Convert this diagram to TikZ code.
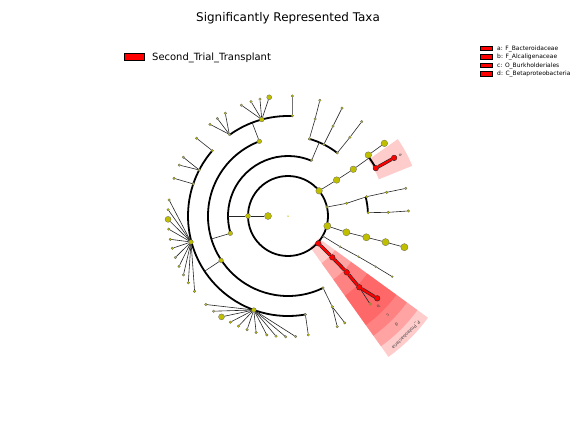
\documentclass[tikz,border=0pt]{standalone}
\usepackage{fontspec}
\setmainfont{DejaVu Sans}
\definecolor{taxonY}{RGB}{191,191,0}
\definecolor{biomRed}{RGB}{255,0,0}
\usetikzlibrary{positioning}

\begin{document}
\begin{tikzpicture}[x=1bp, y=1bp,
    taxon/.style={circle, inner sep=0pt, minimum size=#1, draw=black!60, line width=0.3bp, fill=taxonY},
    taxon/.default=2.6bp,
    biom/.style={circle, inner sep=0pt, minimum size=5.6bp, draw=black!85, line width=0.4bp, fill=biomRed},
    branch/.style={line width=0.6bp, black!85},
    ring/.style={line width=1.8bp, black},
    redcase/.style={line width=3.4bp, black!85},
    redlink/.style={line width=2.2bp, biomRed},
    clade/.style={fill=biomRed, fill opacity=0.2},
    cladelab/.style={font=\fontsize{4.5}{4.5}\selectfont, text=black!75, inner sep=0pt},
    legbox/.style={draw=black, line width=0.5bp, fill=biomRed, inner sep=0pt}]

    \useasboundingbox (-288,-216) rectangle (288,216);

    % Title and legends
    \node[font=\fontsize{12}{14}\selectfont, anchor=base] (title) at (0,194.5) {Significantly Represented Taxa};
    \node[legbox, minimum width=20bp, minimum height=7bp] (legBox) at (-154,159.5) {};
    \node[font=\fontsize{10}{12}\selectfont, anchor=base west, inner sep=0pt] (legText) at (-136,155.5) {Second\_Trial\_Transplant};
    \foreach \y/\label [count=\i] in {165.8/{a: F\_Bacteroidaceae}, 157.3/{b: F\_Alcaligenaceae},
                                      148.8/{c: O\_Burkholderiales}, 140.3/{d: C\_Betaproteobacteria}} {
        \node[legbox, minimum width=12bp, minimum height=4.5bp] (keyBox\i) at (198,\y+2.2) {};
        \node[font=\fontsize{6}{7}\selectfont, anchor=base west, inner sep=0pt] (keyText\i) at (209,\y) {\label};
    }

    % Shaded clades
    \fill[clade] (22:98) arc[start angle=22, end angle=35, radius=98bp]
        -- (35:134) arc[start angle=35, end angle=22, radius=134bp] -- cycle;
    \foreach \rin/\rout in {38/173, 58/160, 78/147, 98/134} {
        \fill[clade] (-54.5:\rin) arc[start angle=-54.5, end angle=-36, radius=\rin bp]
            -- (-36:\rout) arc[start angle=-36, end angle=-54.5, radius=\rout bp] -- cycle;
    }
    \node[cladelab, rotate=-61.4] (labA) at (28.6:128) {a};
    \node[cladelab, rotate=225] (labB) at (-45:128) {b};
    \node[cladelab, rotate=225] (labC) at (-45:141) {c};
    \node[cladelab, rotate=225] (labD) at (-45:154) {d};
    \node[cladelab, rotate=225] (labP) at (-45.3:167.5) {P\_Proteobacteria};

    % Rings joining sister taxa
    \draw[ring] (0,0) circle[radius=40bp];
    \draw[ring] (67:60) arc[start angle=67, end angle=196.7, radius=60bp];
    \draw[ring] (111:80) arc[start angle=111, end angle=296, radius=80bp];
    \draw[ring] (52:80) arc[start angle=52, end angle=75, radius=80bp];
    \draw[ring] (2.4:80) arc[start angle=2.4, end angle=13.8, radius=80bp];
    \draw[ring] (87.5:100) arc[start angle=87.5, end angle=125.7, radius=100bp];
    \draw[ring] (139.2:100) arc[start angle=139.2, end angle=280, radius=100bp];
    \draw[ring] (28.6:100) arc[start angle=28.6, end angle=37.2, radius=100bp];

    % Root, kingdom, phyla
    \node[circle, inner sep=0pt, minimum size=1.5bp, fill=taxonY] (root) at (0,0) {};
    \node[taxon=7bp] (king) at (180:20) {};
    \node[taxon=5bp] (p180) at (180:40) {};
    \node[taxon=6.6bp] (pBac) at (39:40) {};
    \node[taxon] (p13) at (13:40) {};
    \node[taxon=7.2bp] (p14) at (-14.3:40.6) {};
    \node[taxon=1.9bp] (p30) at (-30:41) {};
    \node[biom] (pPro) at (-42:40.8) {};
    \draw[branch] (king) -- (p180);
    \coordinate (j180) at (180:60);
    \draw[branch] (p180) -- (j180);

    % Bacteroidetes branch
    \node[taxon=6.6bp] (cBac) at (36.5:60.5) {};
    \node[taxon=6.6bp] (oBac) at (35.6:80.3) {};
    \node[taxon=6.6bp] (fBac) at (37.2:100.8) {};
    \node[taxon=6.6bp] (gBac) at (37:120.7) {};
    \node[biom] (fA) at (28.6:100) {};
    \node[biom] (gA) at (28.7:121) {};
    \coordinate (jBac) at (35.6:100);
    \draw[branch] (pBac) -- (cBac);
    \draw[branch] (cBac) -- (oBac);
    \draw[branch] (oBac) -- (jBac);
    \draw[branch] (fBac) -- (gBac);
    \draw[redcase] (fA) -- (gA);
    \draw[redlink] (fA) -- (gA);

    % branch at 13 deg
    \node[taxon] (c13) at (12.2:60) {};
    \node[taxon] (o13a) at (13.8:81) {};
    \node[taxon] (o13b) at (2.4:80.4) {};
    \node[taxon] (f13a) at (13.5:101.5) {};
    \node[taxon] (g13a) at (13.2:120.9) {};
    \node[taxon] (f13b) at (2.1:100.4) {};
    \node[taxon] (g13b) at (2.4:120.4) {};
    \foreach \u/\v in {p13/c13, c13/o13a, o13a/f13a, f13a/g13a, o13b/f13b, f13b/g13b}
        \draw[branch] (\u) -- (\v);

    % single chains
    \foreach \a/\r [count=\i] in {-15.6/60.6, -15.2/81.2, -15/101, -15/120.5}
        \node[taxon=7.2bp] (s14n\i) at (\a:\r) {};
    \foreach \a/\r [count=\i] in {-30.5/60.4, -30/81.2, -30/101.3, -30.2/120.7}
        \node[taxon=1.9bp] (s30n\i) at (\a:\r) {};
    \foreach \u/\v in {p14/s14n1, s14n1/s14n2, s14n2/s14n3, s14n3/s14n4,
                       p30/s30n1, s30n1/s30n2, s30n2/s30n3, s30n3/s30n4}
        \draw[branch] (\u) -- (\v);

    % Proteobacteria (biomarkers)
    \node[biom] (cPro) at (-43:60.6) {};
    \node[biom] (oPro) at (-43.8:81.3) {};
    \node[biom] (fPro) at (-45:100.8) {};
    \node[biom] (gPro) at (-42.7:121.4) {};
    \node[taxon] (gPro2) at (-47:120.3) {};
    \draw[branch] (fPro) -- (gPro2);
    \foreach \u/\v in {pPro/cPro, cPro/oPro, oPro/fPro, fPro/gPro}
        \draw[redcase] (\u) -- (\v);
    \foreach \u/\v in {pPro/cPro, cPro/oPro, oPro/fPro, fPro/gPro}
        \draw[redlink] (\u) -- (\v);

    % classes of the left phylum
    \node[taxon] (c67) at (67:60.8) {};
    \node[taxon=4.6bp] (c197) at (196.7:60.2) {};
    \coordinate (j67) at (67:80);
    \coordinate (j197) at (196.7:80);
    \draw[branch] (c67) -- (j67);
    \draw[branch] (c197) -- (j197);

    % orders under c67
    \foreach \a/\af/\rf/\ag/\rg [count=\i] in {74.5/74.4/100.7/74.6/120, 63.4/63.4/100.6/63.4/120.7,
                                                52/51.8/100.2/52/119.7} {
        \node[taxon] (oT\i) at (\a:80) {};
        \node[taxon] (fT\i) at (\af:\rf) {};
        \node[taxon] (gT\i) at (\ag:\rg) {};
        \draw[branch] (oT\i) -- (fT\i);
        \draw[branch] (fT\i) -- (gT\i);
    }

    % orders under c197
    \node[taxon=4.6bp] (o111) at (111:80) {};
    \node[taxon=4.6bp] (o213) at (213.5:80.3) {};
    \node[taxon] (o296) at (296:80) {};
    \coordinate (j111) at (111:100);
    \coordinate (j213) at (213.5:100);
    \draw[branch] (o111) -- (j111);
    \draw[branch] (o213) -- (j213);

    % families under o111
    \node[taxon] (f88) at (87.5:100.4) {};
    \node[taxon] (g88) at (87.9:120.1) {};
    \draw[branch] (f88) -- (g88);
    \node[taxon=4.8bp] (f105) at (105.2:100) {};
    \foreach \a/\s [count=\i] in {99/5bp, 103.5/2.6bp, 107.9/2.6bp, 112.8/2.6bp} {
        \node[taxon=\s] (g105n\i) at (\a:120.2) {};
        \draw[branch] (f105) -- (g105n\i);
    }
    \node[taxon] (f126) at (125.7:100.6) {};
    \foreach \a [count=\i] in {121.4, 125.9, 130.4} {
        \node[taxon] (g126n\i) at (\a:120.4) {};
        \draw[branch] (f126) -- (g126n\i);
    }

    % families under o213
    \node[taxon] (f139) at (139.2:100) {};
    \node[taxon] (g139) at (139.6:120) {};
    \draw[branch] (f139) -- (g139);
    \node[taxon] (f153) at (152.6:100) {};
    \foreach \a [count=\i] in {150.7, 154.9} {
        \node[taxon] (g153n\i) at (\a:120) {};
        \draw[branch] (f153) -- (g153n\i);
    }
    \node[taxon] (f161) at (161.3:100) {};
    \node[taxon] (g161) at (161.7:120) {};
    \draw[branch] (f161) -- (g161);
    \node[taxon=4.6bp] (fW) at (195:100.4) {};
    \foreach \a/\s [count=\i] in {172.3/2.6bp, 177/2.6bp, 181.6/6bp, 186.3/2.6bp, 191.2/2.6bp, 195.6/2.6bp,
                                  200.2/2.6bp, 204.8/2.6bp, 209.4/2.6bp, 213.8/2.6bp, 218.9/2.6bp} {
        \node[taxon=\s] (gW\i) at (\a:120) {};
        \draw[branch] (fW) -- (gW\i);
    }
    \node[taxon=4.6bp] (fS) at (250:100) {};
    \foreach \a/\s [count=\i] in {227.1/2.6bp, 232/2.6bp, 236.6/6bp, 241.5/2.6bp, 245.8/2.6bp, 250.2/2.6bp,
                                  254.7/2.6bp, 259.9/2.6bp, 264.3/2.6bp, 268.9/2.6bp, 273.6/2.6bp} {
        \node[taxon=\s] (gS\i) at (\a:120.8) {};
        \draw[branch] (fS) -- (gS\i);
    }
    \node[taxon] (f280) at (280:100) {};
    \node[taxon] (g280) at (279.7:120.6) {};
    \draw[branch] (f280) -- (g280);

    % family under o296
    \node[taxon] (f296) at (296:101) {};
    \node[taxon] (g296a) at (294:121) {};
    \node[taxon] (g296b) at (298:121) {};
    \draw[branch] (o296) -- (f296);
    \draw[branch] (f296) -- (g296a);
    \draw[branch] (f296) -- (g296b);
\end{tikzpicture}
\end{document}
